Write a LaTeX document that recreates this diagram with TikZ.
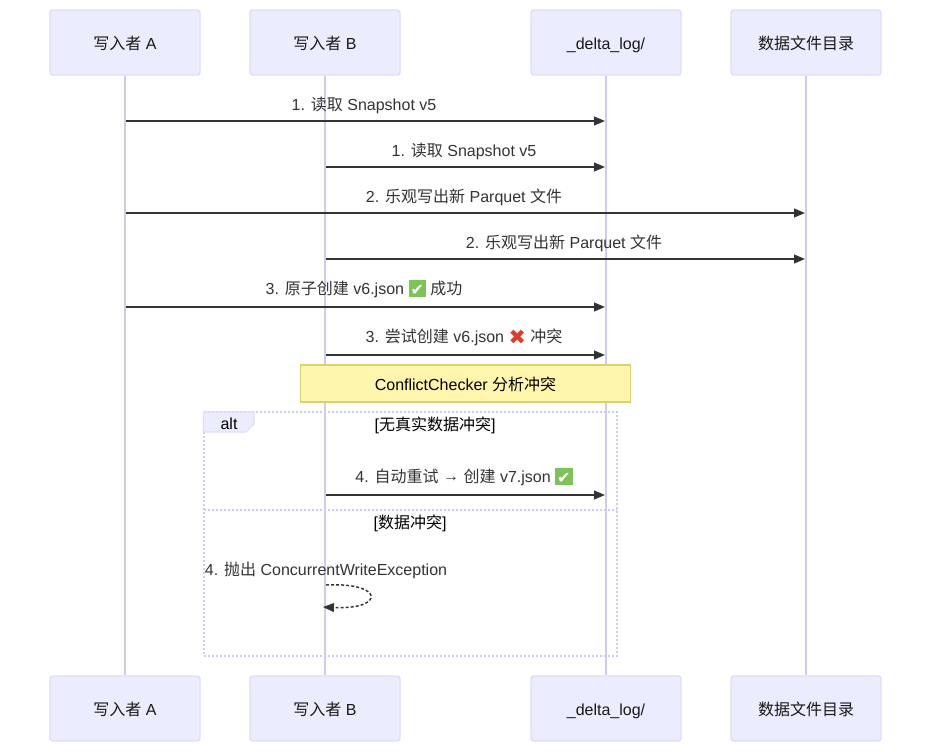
\documentclass[tikz,border=0pt]{standalone}
\usepackage{fontspec}
\setmainfont{Liberation Sans}
\newfontfamily\cjk{Noto Sans CJK SC}
\newfontfamily\symf{DejaVu Sans}
\usetikzlibrary{arrows.meta}
\definecolor{actfill}{HTML}{ECECFF}
\definecolor{actline}{HTML}{E0DCFA}
\definecolor{life}{HTML}{CFCAEE}
\definecolor{msg}{HTML}{333333}
\definecolor{notefill}{HTML}{FFF5AD}
\definecolor{noteline}{HTML}{D4D46E}
\newcommand{\cn}[1]{{\cjk #1}}
\newcommand{\okm}{\raisebox{-1.5pt}{\setlength{\fboxsep}{0pt}\colorbox[HTML]{7CC45A}{\makebox[13pt]{\rule{0pt}{12.5pt}\raisebox{1.2pt}{\textcolor{white}{\symf\fontsize{12pt}{12pt}\selectfont ✔}}}}}}
\newcommand{\nom}{\raisebox{-1.2pt}{\textcolor[HTML]{DD3B2B}{\symf\fontsize{15.5pt}{16pt}\selectfont ✖}}}
\tikzset{
  x=0.75pt,y=-0.75pt,
  actor/.style={draw=actline,fill=actfill,line width=1.1pt,rounded corners=2.2pt,minimum width=112.5pt,minimum height=48.75pt,inner sep=0pt,text=black!90,text height=11pt,text depth=1pt,font=\fontsize{12pt}{14pt}\selectfont},
  lifeline/.style={draw=life,line width=1.4pt},
  message/.style={draw=msg,line width=1.1pt,-{Triangle[length=8.2pt,width=6.6pt,color=msg]}},
  selfmsg/.style={draw=msg,line width=1.1pt,dash pattern=on 2.2pt off 1.6pt,-{Triangle[length=8.2pt,width=6.6pt,color=msg]}},
  msglabel/.style={text=msg,inner sep=0pt,text height=11pt,text depth=1pt,font=\fontsize{12pt}{14pt}\selectfont},
  guard/.style={text=black,inner sep=0pt,font=\fontsize{12pt}{14pt}\selectfont},
  frame/.style={draw=life,line width=1.4pt,dash pattern=on 1.5pt off 1.5pt},
  tag/.style={draw=actline,fill=actfill,line width=0.8pt},
  notebox/.style={draw=noteline,fill=notefill,line width=0.9pt,minimum width=247.5pt,minimum height=27.75pt,inner sep=0pt,text=black,text height=11pt,text depth=1pt,font=\fontsize{12pt}{14pt}\selectfont},
}
\begin{document}
\begin{tikzpicture}
\useasboundingbox[fill=white] (0,0) rectangle (931,752);
% actors
\node[actor] (at) at (125,42.5) {\cn{写入者} A};
\node[actor] (bt) at (325,42.5) {\cn{写入者} B};
\node[actor] (dt) at (606,42.5) {\_delta\_log/};
\node[actor] (ft) at (806,42.5) {\cn{数据文件目录}};
\node[actor] (ab) at (125,708.5) {\cn{写入者} A};
\node[actor] (bb) at (325,708.5) {\cn{写入者} B};
\node[actor] (db) at (606,708.5) {\_delta\_log/};
\node[actor] (fb) at (806,708.5) {\cn{数据文件目录}};
% lifelines
\draw[lifeline] (at) -- (ab);
\draw[lifeline] (bt) -- (bb);
\draw[lifeline] (dt) -- (db);
\draw[lifeline] (ft) -- (fb);
% message ends
\coordinate (a1) at (126,121); \coordinate (d1) at (605,121);
\coordinate (b2) at (326,167); \coordinate (d2) at (605,167);
\coordinate (a3) at (126,213); \coordinate (f3) at (805,213);
\coordinate (b4) at (326,259); \coordinate (f4) at (805,259);
\coordinate (a5) at (126,307); \coordinate (d5) at (605,307);
\coordinate (b6) at (326,355); \coordinate (d6) at (605,355);
\coordinate (b7) at (326,495); \coordinate (d7) at (605,495);
\coordinate (s1) at (326,585); \coordinate (s2) at (323,607);
\draw[message] (a1) -- (d1);
\draw[message] (b2) -- (d2);
\draw[message] (a3) -- (f3);
\draw[message] (b4) -- (f4);
\draw[message] (a5) -- (d5);
\draw[message] (b6) -- (d6);
\draw[message] (b7) -- (d7);
\draw[selfmsg] (s1) .. controls (385,582) and (385,610) .. (s2);
% labels
\node[msglabel] (l1) at (364,104) {1. \cn{读取} Snapshot v5};
\node[msglabel] (l2) at (464,150) {1. \cn{读取} Snapshot v5};
\node[msglabel] (l3) at (464,196) {2. \cn{乐观写出新} Parquet \cn{文件}};
\node[msglabel] (l4) at (564,242) {2. \cn{乐观写出新} Parquet \cn{文件}};
\node[msglabel] (l5) at (364,288) {3. \cn{原子创建} v6.json \okm{} \cn{成功}};
\node[msglabel] (l6) at (464,336) {3. \cn{尝试创建} v6.json \nom{} \cn{冲突}};
\node[msglabel] (l7) at (464,476) {4. \cn{自动重试} \raisebox{1pt}{→} \cn{创建} v7.json \okm};
\node[msglabel] (l8) at (326,569) {4. \cn{抛出} ConcurrentWriteException};
% note
\node[notebox] (note) at (465.5,383.5) {ConflictChecker \cn{分析冲突}};
% alt frame
\draw[frame] (204,412) rectangle (617,656);
\draw[frame] (204,510) -- (617,510);
\draw[tag] (203.5,412) -- (254,412) -- (254,424) -- (246,432) -- (203.5,432) -- cycle;
\node[guard] (alt) at (229,423.5) {alt};
\node[guard] (g1) at (435,425) {[\cn{无真实数据冲突}]};
\node[guard] (g2) at (410,523) {[\cn{数据冲突}]};
\end{tikzpicture}
\end{document}
